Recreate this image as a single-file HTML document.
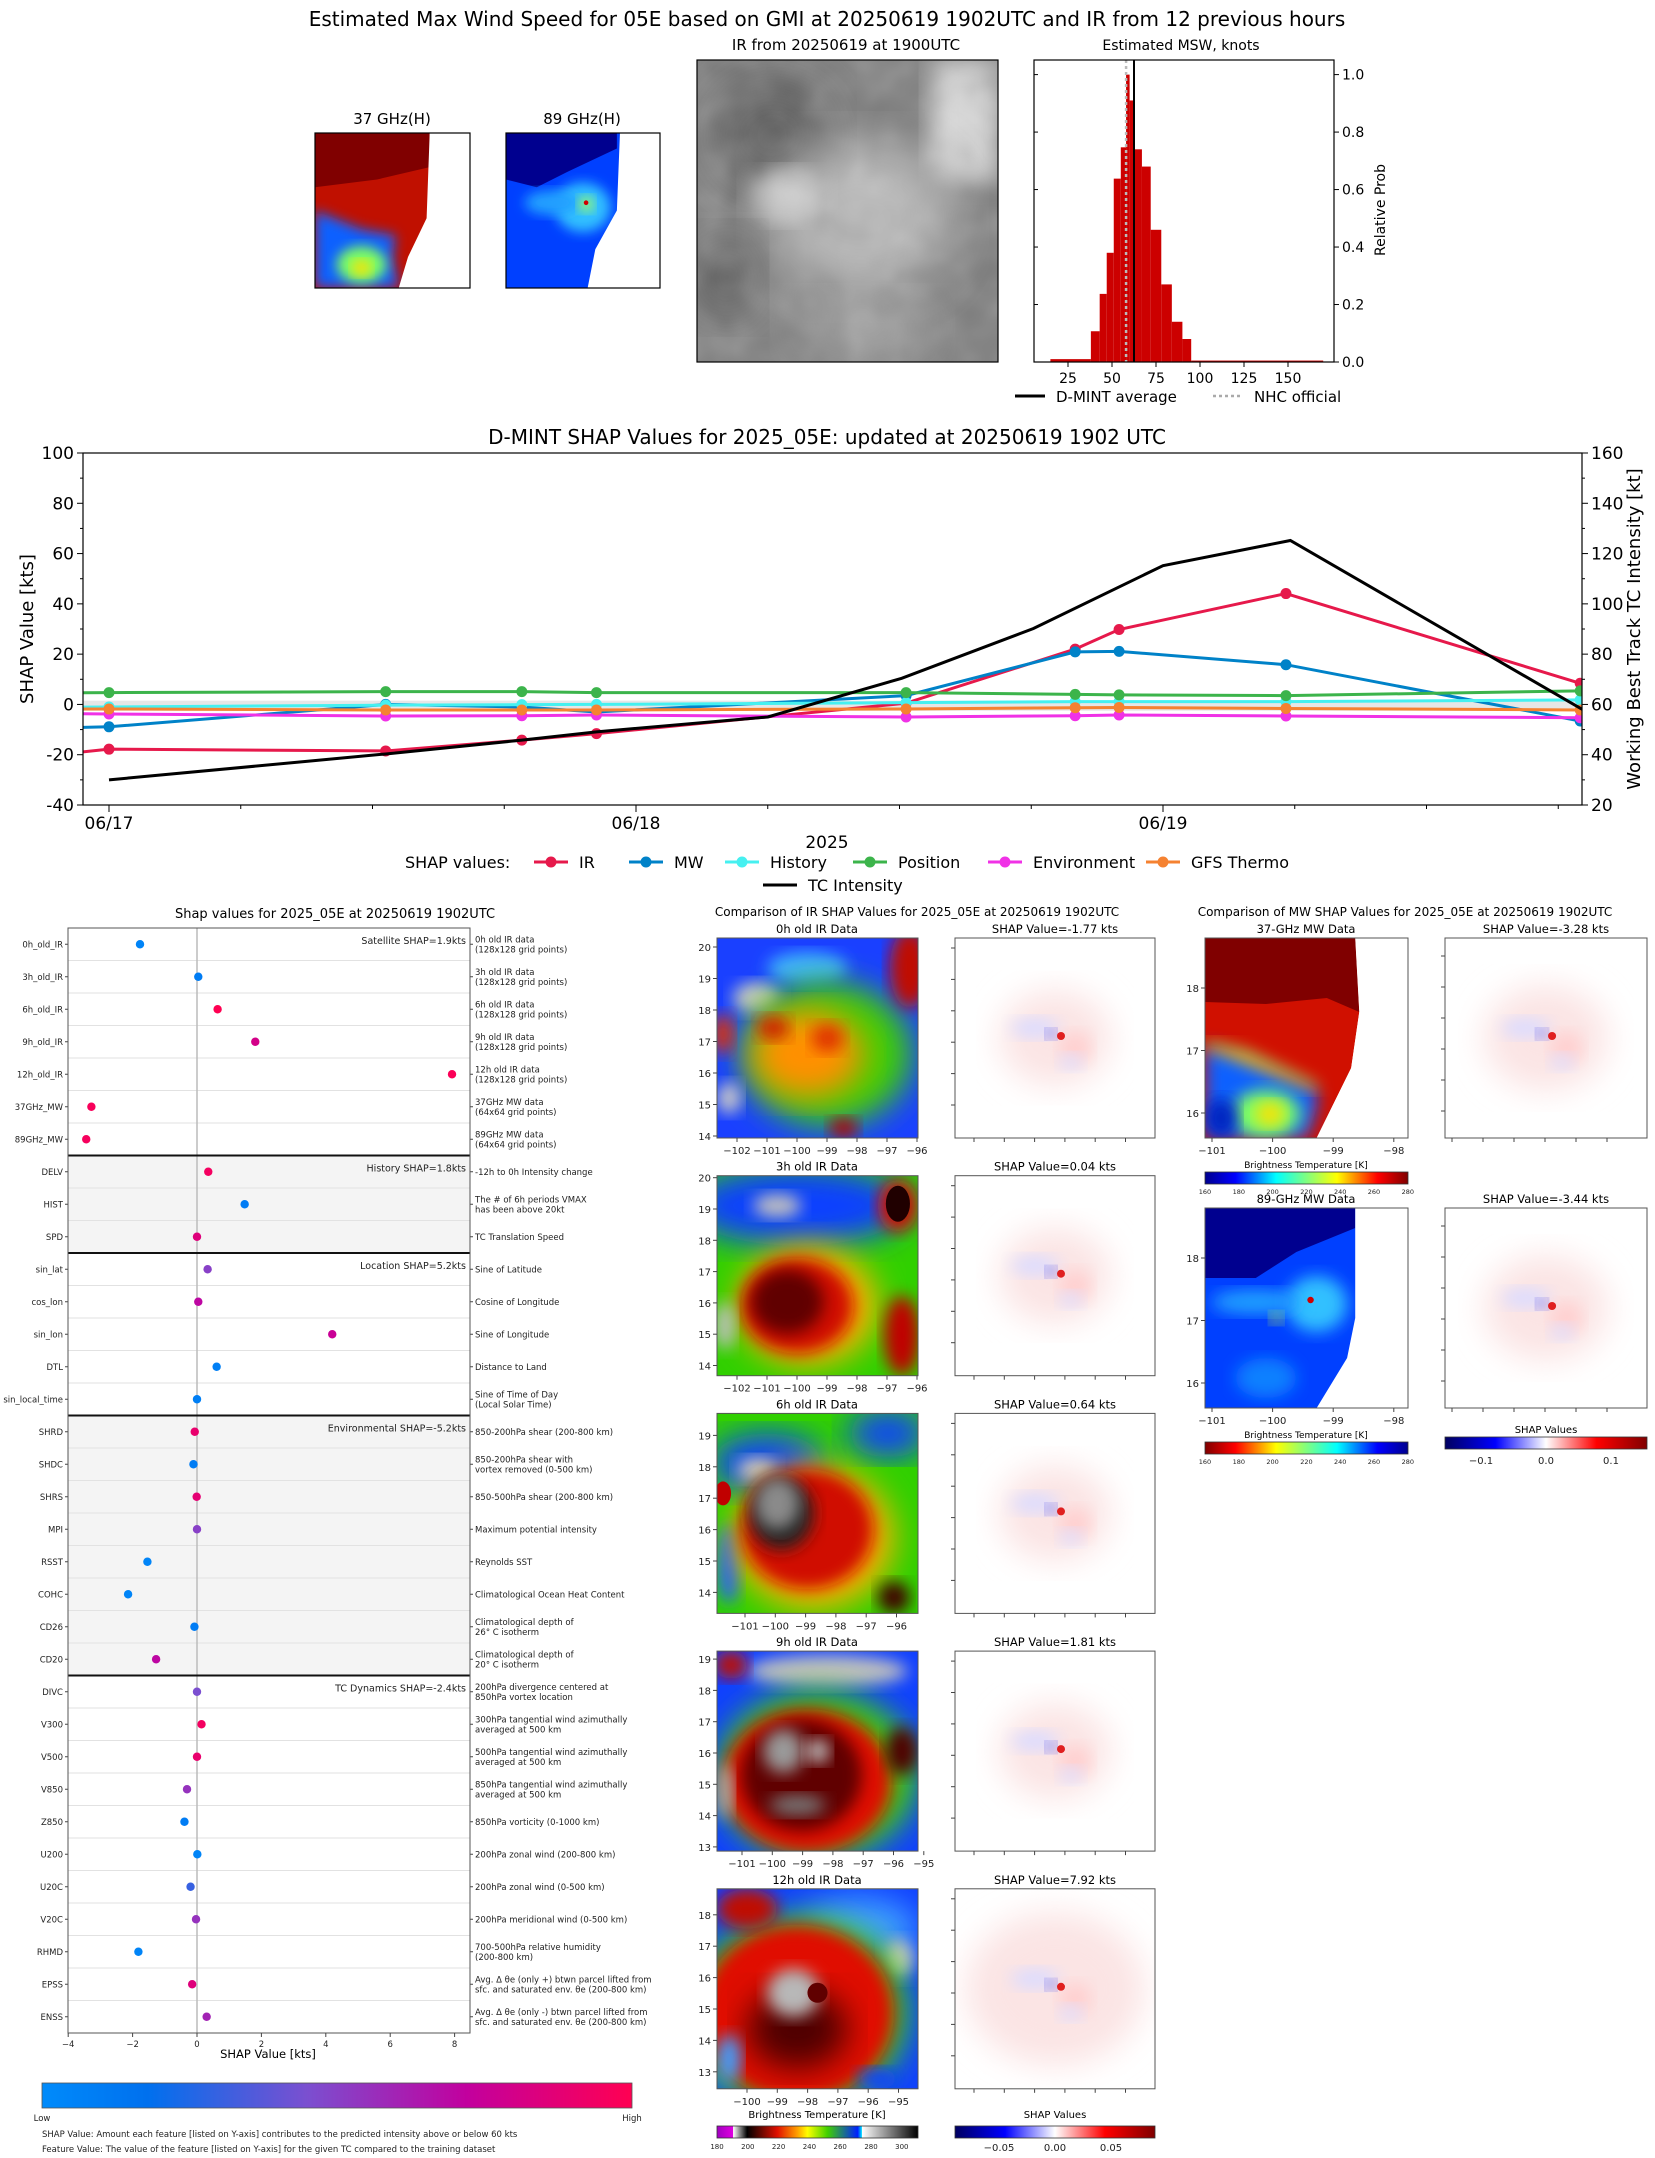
<!DOCTYPE html>
<html><head><meta charset="utf-8">
<style>
html,body{margin:0;padding:0;background:#fff;}
svg{display:block;font-family:"DejaVu Sans","Liberation Sans",sans-serif;}
</style></head>
<body>
<svg id="root" width="1655" height="2158" viewBox="0 0 1655 2158" xmlns="http://www.w3.org/2000/svg">
<defs>
<filter id="bl4" x="-20%" y="-20%" width="140%" height="140%"><feGaussianBlur stdDeviation="4"/></filter>
<filter id="bl8" x="-20%" y="-20%" width="140%" height="140%"><feGaussianBlur stdDeviation="8"/></filter>
<filter id="grain"><feTurbulence type="fractalNoise" baseFrequency="0.08" numOctaves="2" seed="3"/><feColorMatrix type="saturate" values="0"/><feComponentTransfer><feFuncA type="table" tableValues="0 0.35"/></feComponentTransfer></filter>
<linearGradient id="cbShap" x1="0" x2="1"><stop offset="0" stop-color="#008bfb"/><stop offset="0.18" stop-color="#0070ee"/><stop offset="0.45" stop-color="#7b4fd0"/><stop offset="0.72" stop-color="#c2009e"/><stop offset="1" stop-color="#ff0052"/></linearGradient>
<linearGradient id="cbIR" x1="0" x2="1"><stop offset="0" stop-color="#a000c0"/><stop offset="0.08" stop-color="#e000e0"/><stop offset="0.081" stop-color="#ffffff"/><stop offset="0.15" stop-color="#000000"/><stop offset="0.3" stop-color="#e01000"/><stop offset="0.4" stop-color="#ffa000"/><stop offset="0.45" stop-color="#ffff00"/><stop offset="0.55" stop-color="#40d000"/><stop offset="0.7" stop-color="#0020ff"/><stop offset="0.72" stop-color="#00e0ff"/><stop offset="0.721" stop-color="#ffffff"/><stop offset="1" stop-color="#000000"/></linearGradient>
<linearGradient id="cbSV" x1="0" x2="1"><stop offset="0" stop-color="#000060"/><stop offset="0.25" stop-color="#0000ff"/><stop offset="0.5" stop-color="#ffffff"/><stop offset="0.75" stop-color="#ff0000"/><stop offset="1" stop-color="#800000"/></linearGradient>
<linearGradient id="cbJet" x1="0" x2="1"><stop offset="0" stop-color="#00008f"/><stop offset="0.15" stop-color="#0000ff"/><stop offset="0.35" stop-color="#00ffff"/><stop offset="0.5" stop-color="#80ff80"/><stop offset="0.65" stop-color="#ffff00"/><stop offset="0.85" stop-color="#ff0000"/><stop offset="1" stop-color="#800000"/></linearGradient>
<linearGradient id="cbJetR" x1="1" x2="0"><stop offset="0" stop-color="#00008f"/><stop offset="0.15" stop-color="#0000ff"/><stop offset="0.35" stop-color="#00ffff"/><stop offset="0.5" stop-color="#80ff80"/><stop offset="0.65" stop-color="#ffff00"/><stop offset="0.85" stop-color="#ff0000"/><stop offset="1" stop-color="#800000"/></linearGradient>
<clipPath id="cpTL"><rect x="83" y="453" width="1499" height="352"/></clipPath>
</defs>

<text x="827" y="26" font-size="20" text-anchor="middle">Estimated Max Wind Speed for 05E based on GMI at 20250619 1902UTC and IR from 12 previous hours</text>

<text x="392" y="124" font-size="15" text-anchor="middle">37 GHz(H)</text>
<g>
  <svg x="315" y="133" width="155" height="155" viewBox="0 0 100 100" preserveAspectRatio="none">
    <rect width="100" height="100" fill="#fff"/>
    <polygon points="0,0 74,0 74,60 60,100 0,100" fill="#c01000"/>
    <polygon points="0,0 74,0 74,22 40,30 0,35" fill="#800000"/>
    <polygon points="0,50 30,62 52,66 50,80 54,100 0,100" fill="#1060ff" filter="url(#bl4)"/>
    <ellipse cx="30" cy="85" rx="16" ry="12" fill="#80ff60" filter="url(#bl4)"/>
    <ellipse cx="30" cy="87" rx="6" ry="5" fill="#ffe000" filter="url(#bl4)"/>
    <polygon points="74,0 100,0 100,100 54,100 60,80 72,55" fill="#fff"/>
  </svg>
  <rect x="315" y="133" width="155" height="155" fill="none" stroke="#000" stroke-width="1.2"/>
</g>
<text x="582" y="124" font-size="15" text-anchor="middle">89 GHz(H)</text>
<g>
  <svg x="506" y="133" width="154" height="155" viewBox="0 0 100 100" preserveAspectRatio="none">
    <rect width="100" height="100" fill="#0040ff"/>
    <polygon points="0,0 72,0 72,10 40,25 20,35 0,30" fill="#00008f"/>
    <ellipse cx="50" cy="48" rx="18" ry="16" fill="#30c0ff" filter="url(#bl4)"/>
    <ellipse cx="30" cy="45" rx="18" ry="8" fill="#20a0ff" filter="url(#bl4)"/>
    <ellipse cx="52" cy="46" rx="5" ry="5" fill="#a0ff60" filter="url(#bl4)"/>
    <circle cx="52" cy="45" r="1.5" fill="#d00000"/>
    <polygon points="74,0 100,0 100,100 53,100 58,75 72,50" fill="#fff"/>
  </svg>
  <rect x="506" y="133" width="154" height="155" fill="none" stroke="#000" stroke-width="1.2"/>
</g>

<text x="846" y="50" font-size="15" text-anchor="middle">IR from 20250619 at 1900UTC</text>
<g>
  <svg x="697" y="60" width="301" height="302" viewBox="0 0 100 100" preserveAspectRatio="none">
    <rect width="100" height="100" fill="#7c7c7c"/>
    <rect x="78" y="0" width="22" height="40" fill="#d8d8d8" filter="url(#bl4)"/>
    <ellipse cx="25" cy="25" rx="20" ry="18" fill="#555" filter="url(#bl8)"/>
    <ellipse cx="55" cy="52" rx="30" ry="25" fill="#b8b8b8" filter="url(#bl8)"/>
    <ellipse cx="30" cy="45" rx="12" ry="8" fill="#cfcfcf" filter="url(#bl4)"/>
    <ellipse cx="55" cy="88" rx="22" ry="10" fill="#a5a5a5" filter="url(#bl8)"/>
    <ellipse cx="10" cy="72" rx="10" ry="14" fill="#555" filter="url(#bl8)"/>
    <rect width="100" height="100" filter="url(#grain)"/>
  </svg>
  <rect x="697" y="60" width="301" height="302" fill="none" stroke="#000" stroke-width="1.2"/>
</g>

<text x="1181" y="50" font-size="14" text-anchor="middle">Estimated MSW, knots</text>
<g id="hist"></g>

<text x="827" y="444" font-size="20" text-anchor="middle">D-MINT SHAP Values for 2025_05E: updated at 20250619 1902 UTC</text>
<g id="timeline"></g>

<text x="335" y="918" font-size="13" text-anchor="middle">Shap values for 2025_05E at 20250619 1902UTC</text>
<g id="feat"></g>

<text x="917" y="916" font-size="12" text-anchor="middle">Comparison of IR SHAP Values for 2025_05E at 20250619 1902UTC</text>
<g id="irpanels"></g>

<text x="1405" y="916" font-size="12" text-anchor="middle">Comparison of MW SHAP Values for 2025_05E at 20250619 1902UTC</text>
<g id="mwpanels"></g>
</svg>

<script>
// ---------- DATA ----------
const histEdges = [15,38,43,47,51,55,58,60,63,67,72,78,84,90,95,170];
const histProbs = [0.01,0.107,0.237,0.38,0.638,0.747,1.0,0.91,0.74,0.68,0.46,0.27,0.14,0.08,0.005];
const histXTicks = [25,50,75,100,125,150];
const histYTicks = [0,0.2,0.4,0.6,0.8,1.0];
const dmintAvg = 62.5;
const nhcOfficial = 58;

const tlHours = [-3,0,12.6,18.8,22.2,36.3,44,46,53.6,67];
const irShap   = [-20.5,-17.8,-18.5,-14.2,-11.6,0.5,22,29.8,44.1,8.4];
const mwShap   = [-9.5,-8.9,0,-1,-3,3.5,20.9,21.1,15.8,-6.6];
const histShap = [-1.2,-1,-0.3,-0.1,0,0.7,1.1,1.1,1.1,1.8];
const posShap  = [4.5,4.7,5.1,5.1,4.7,4.7,4.0,3.8,3.5,5.4];
const envShap  = [-3.6,-3.8,-4.6,-4.5,-4.2,-5,-4.5,-4.2,-4.6,-5.3];
const gfsShap  = [-1.8,-1.8,-2.2,-2.2,-2.2,-1.8,-1.3,-1.2,-1.6,-2.2];
const tcHours = [0,12.6,18.8,22.2,30,36.1,42.1,48,53.8,67.1];
const tcIntensity = [30,40.3,45.8,49.1,55,70.4,90.2,115.2,125.2,58];
const tlLeftTicks = [-40,-20,0,20,40,60,80,100];
const tlRightTicks = [20,40,60,80,100,120,140,160];
const tlDateLabels = ["06/17","06/18","06/19"];

const featNames = ["0h_old_IR","3h_old_IR","6h_old_IR","9h_old_IR","12h_old_IR","37GHz_MW","89GHz_MW","DELV","HIST","SPD","sin_lat","cos_lon","sin_lon","DTL","sin_local_time","SHRD","SHDC","SHRS","MPI","RSST","COHC","CD26","CD20","DIVC","V300","V500","V850","Z850","U200","U20C","V20C","RHMD","EPSS","ENSS"];
const featShap = [-1.77,0.04,0.64,1.81,7.92,-3.28,-3.44,0.35,1.48,0,0.33,0.04,4.2,0.61,0,-0.07,-0.11,-0.01,0,-1.54,-2.14,-0.08,-1.27,0,0.14,0,-0.31,-0.39,0.01,-0.2,-0.03,-1.82,-0.15,0.3];
const featValue = [0.05,0.1,1.0,0.8,0.98,0.97,0.96,0.95,0.1,0.85,0.5,0.7,0.75,0.08,0.08,0.9,0.1,0.88,0.5,0.05,0.05,0.1,0.7,0.45,0.95,0.9,0.55,0.1,0.05,0.3,0.55,0.05,0.85,0.6];
const featDesc = ["0h old IR data|(128x128 grid points)","3h old IR data|(128x128 grid points)","6h old IR data|(128x128 grid points)","9h old IR data|(128x128 grid points)","12h old IR data|(128x128 grid points)","37GHz MW data|(64x64 grid points)","89GHz MW data|(64x64 grid points)","-12h to 0h Intensity change","The # of 6h periods VMAX|has been above 20kt","TC Translation Speed","Sine of Latitude","Cosine of Longitude","Sine of Longitude","Distance to Land","Sine of Time of Day|(Local Solar Time)","850-200hPa shear (200-800 km)","850-200hPa shear with|vortex removed (0-500 km)","850-500hPa shear (200-800 km)","Maximum potential intensity","Reynolds SST","Climatological Ocean Heat Content","Climatological depth of|26° C isotherm","Climatological depth of|20° C isotherm","200hPa divergence centered at|850hPa vortex location","300hPa tangential wind azimuthally|averaged at 500 km","500hPa tangential wind azimuthally|averaged at 500 km","850hPa tangential wind azimuthally|averaged at 500 km","850hPa vorticity (0-1000 km)","200hPa zonal wind (200-800 km)","200hPa zonal wind (0-500 km)","200hPa meridional wind (0-500 km)","700-500hPa relative humidity|(200-800 km)","Avg. Δ θe (only +) btwn parcel lifted from|sfc. and saturated env. θe (200-800 km)","Avg. Δ θe (only -) btwn parcel lifted from|sfc. and saturated env. θe (200-800 km)"];
const groupNames = ["Satellite SHAP=1.9kts","History SHAP=1.8kts","Location SHAP=5.2kts","Environmental SHAP=-5.2kts","TC Dynamics SHAP=-2.4kts"];
const groupSizes = [7,3,5,8,11];
const featXTicks = [-4,-2,0,2,4,6,8];

const irTitles = ["0h old IR Data","3h old IR Data","6h old IR Data","9h old IR Data","12h old IR Data"];
const irShapVals = ["-1.77","0.04","0.64","1.81","7.92"];
const mwTitles = ["37-GHz MW Data","89-GHz MW Data"];
const mwShapVals = ["-3.28","-3.44"];

// ---------- HELPERS ----------
const NS = "http://www.w3.org/2000/svg";
function add(parent, tag, attrs, name, inter) {
  const e = document.createElementNS(NS, tag);
  for (const k in attrs) e.setAttribute(k, attrs[k]);
  
  
  parent.appendChild(e);
  return e;
}
function txt(parent, x, y, s, size, name, extra) {
  const a = Object.assign({x: x, y: y, 'font-size': size}, extra || {});
  const t = add(parent, 'text', a, name, false);
  t.textContent = s;
  return t;
}

// ---------- HISTOGRAM ----------
(function(){
  const g = document.getElementById('hist');
  const L = 1034, R = 1334, T = 60, B = 362;
  const xs = k => 1068 + (k - 25) * 1.76;
  const ys = p => B - p * 287.4;
  for (let i = 0; i < histProbs.length; i++) {
    add(g, 'rect', {x: xs(histEdges[i]), y: ys(histProbs[i]), width: xs(histEdges[i+1]) - xs(histEdges[i]), height: B - ys(histProbs[i]), fill: '#cc0000'}, 'hist-bar', false);
  }
  add(g, 'line', {x1: xs(nhcOfficial), x2: xs(nhcOfficial), y1: T, y2: B, stroke: '#bbbbbb', 'stroke-width': 2.5, 'stroke-dasharray': '3,3'}, 'nhc-official-line', false);
  add(g, 'line', {x1: xs(dmintAvg), x2: xs(dmintAvg), y1: T, y2: B, stroke: '#000', 'stroke-width': 2}, 'dmint-average-line', false);
  add(g, 'rect', {x: L, y: T, width: R - L, height: B - T, fill: 'none', stroke: '#000', 'stroke-width': 1.2}, 'histogram-frame', false);
  histXTicks.forEach(v => {
    add(g, 'line', {x1: xs(v), x2: xs(v), y1: B, y2: B + 5, stroke: '#000'}, 'x-tick', false);
    txt(g, xs(v), B + 21, String(v), 14, 'x-tick-label', {'text-anchor': 'middle'});
  });
  histYTicks.forEach(v => {
    add(g, 'line', {x1: R, x2: R + 5, y1: ys(v), y2: ys(v), stroke: '#000'}, 'y-tick', false);
    add(g, 'line', {x1: L, x2: L + 4, y1: ys(v), y2: ys(v), stroke: '#000'}, 'y-tick-inner', false);
    txt(g, R + 8, ys(v) + 5, v.toFixed(1), 14, 'y-tick-label', {});
  });
  txt(g, 1385, 210, 'Relative Prob', 14, 'y-axis-title', {'text-anchor': 'middle', transform: 'rotate(-90 1385 210)'});
  add(g, 'line', {x1: 1015, x2: 1045, y1: 396, y2: 396, stroke: '#000', 'stroke-width': 3}, 'legend-dmint-swatch', false);
  txt(g, 1056, 402, 'D-MINT average', 15, 'legend-dmint-label', {});
  add(g, 'line', {x1: 1213, x2: 1243, y1: 396, y2: 396, stroke: '#aaa', 'stroke-width': 2.5, 'stroke-dasharray': '3,3'}, 'legend-nhc-swatch', false);
  txt(g, 1254, 402, 'NHC official', 15, 'legend-nhc-label', {});
})();

// ---------- TIMELINE ----------
(function(){
  const g = document.getElementById('timeline');
  const L = 83, R = 1582, T = 453, B = 805;
  const xs = h => 109 + h / 24 * 527;
  const yl = v => T + (100 - v) * (B - T) / 140;
  const yr = v => T + (160 - v) * (B - T) / 140;
  add(g, 'rect', {x: L, y: yl(1.5), width: R - L, height: yl(-2.5) - yl(1.5), fill: '#e6e6e6'}, 'zero-band', false);
  const cg = add(g, 'g', {'clip-path': 'url(#cpTL)'}, 'series-group', false);
  const series = [[irShap,'#e6194b','ir-series'],[mwShap,'#0082c8','mw-series'],[histShap,'#46f0f0','history-series'],[posShap,'#3cb44b','position-series'],[envShap,'#f032e6','environment-series'],[gfsShap,'#f58231','gfs-thermo-series']];
  series.forEach(s => {
    const pts = tlHours.map((h, i) => xs(h) + ',' + yl(s[0][i])).join(' ');
    add(cg, 'polyline', {points: pts, fill: 'none', stroke: s[1], 'stroke-width': 3}, s[2] + '-line', false);
    tlHours.forEach((h, i) => {
      add(cg, 'circle', {cx: xs(h), cy: yl(s[0][i]), r: 5.5, fill: s[1]}, s[2] + '-marker', false);
    });
  });
  const tpts = tcHours.map((h, i) => xs(h) + ',' + yr(tcIntensity[i])).join(' ');
  add(cg, 'polyline', {points: tpts, fill: 'none', stroke: '#000', 'stroke-width': 3}, 'tc-intensity-line', false);
  add(g, 'rect', {x: L, y: T, width: R - L, height: B - T, fill: 'none', stroke: '#000', 'stroke-width': 1.2}, 'timeline-frame', false);
  tlLeftTicks.forEach(v => {
    add(g, 'line', {x1: L - 6, x2: L, y1: yl(v), y2: yl(v), stroke: '#000'}, 'left-tick', false);
    txt(g, L - 9, yl(v) + 6, String(v), 17, 'left-tick-label', {'text-anchor': 'end'});
    if (v < 100) add(g, 'line', {x1: L - 3, x2: L, y1: yl(v + 10), y2: yl(v + 10), stroke: '#000'}, 'left-minor-tick', false);
  });
  tlRightTicks.forEach(v => {
    add(g, 'line', {x1: R, x2: R + 6, y1: yr(v), y2: yr(v), stroke: '#000'}, 'right-tick', false);
    txt(g, R + 9, yr(v) + 6, String(v), 17, 'right-tick-label', {});
    if (v < 160) add(g, 'line', {x1: R, x2: R + 3, y1: yr(v + 10), y2: yr(v + 10), stroke: '#000'}, 'right-minor-tick', false);
  });
  for (let h = 0; h <= 66; h += 6) {
    const major = h % 24 === 0;
    add(g, 'line', {x1: xs(h), x2: xs(h), y1: B, y2: B + (major ? 7 : 4), stroke: '#000'}, 'x-tick', false);
  }
  tlDateLabels.forEach((d, i) => txt(g, xs(i * 24), B + 24, d, 17, 'x-tick-label', {'text-anchor': 'middle'}));
  txt(g, 827, 848, '2025', 17, 'x-axis-title', {'text-anchor': 'middle'});
  txt(g, 33, 629, 'SHAP Value [kts]', 18, 'left-axis-title', {'text-anchor': 'middle', transform: 'rotate(-90 33 629)'});
  txt(g, 1640, 629, 'Working Best Track TC Intensity [kt]', 18, 'right-axis-title', {'text-anchor': 'middle', transform: 'rotate(-90 1640 629)'});
  const ly = 862;
  txt(g, 405, ly + 6, 'SHAP values:', 16, 'legend-title', {});
  const leg = [[551,'IR','#e6194b'],[646,'MW','#0082c8'],[742,'History','#46f0f0'],[870,'Position','#3cb44b'],[1005,'Environment','#f032e6'],[1163,'GFS Thermo','#f58231']];
  leg.forEach(l => {
    add(g, 'line', {x1: l[0] - 17, x2: l[0] + 17, y1: ly, y2: ly, stroke: l[2], 'stroke-width': 3}, 'legend-swatch', false);
    add(g, 'circle', {cx: l[0], cy: ly, r: 5.5, fill: l[2]}, 'legend-marker', false);
    txt(g, l[0] + 28, ly + 6, l[1], 16, 'legend-label', {});
  });
  add(g, 'line', {x1: 763, x2: 797, y1: 885, y2: 885, stroke: '#000', 'stroke-width': 3}, 'legend-tc-swatch', false);
  txt(g, 808, 891, 'TC Intensity', 16, 'legend-tc-label', {});
})();

// ---------- FEATURE CHART ----------
function shapColor(t) {
  const st = [[0,[0,139,251]],[0.18,[0,112,238]],[0.45,[123,79,208]],[0.72,[194,0,158]],[1,[255,0,82]]];
  for (let i = 1; i < st.length; i++) {
    if (t <= st[i][0]) {
      const f = (t - st[i-1][0]) / (st[i][0] - st[i-1][0]);
      const c = st[i-1][1].map((v, k) => Math.round(v + f * (st[i][1][k] - v)));
      return 'rgb(' + c.join(',') + ')';
    }
  }
  return 'rgb(255,0,82)';
}
(function(){
  const g = document.getElementById('feat');
  const L = 68, R = 470, T = 928, RH = 32.5;
  const xs = v => 197 + v * 32.2;
  const B = T + featNames.length * RH;
  let row = 0;
  groupSizes.forEach((n, gi) => {
    const y0 = T + row * RH;
    if (gi % 2 === 1) add(g, 'rect', {x: L, y: y0, width: R - L, height: n * RH, fill: '#f4f4f4'}, 'group-shade', false);
    txt(g, R - 4, y0 + 16, groupNames[gi], 9.5, 'group-label', {'text-anchor': 'end', fill: '#222'});
    row += n;
  });
  for (let i = 1; i < featNames.length; i++) {
    add(g, 'line', {x1: L, x2: R, y1: T + i * RH, y2: T + i * RH, stroke: '#e2e2e2', 'stroke-width': 1}, 'row-divider', false);
  }
  add(g, 'line', {x1: xs(0), x2: xs(0), y1: T, y2: B, stroke: '#bbbbbb', 'stroke-width': 1.5}, 'zero-line', false);
  row = 0;
  groupSizes.forEach((n, gi) => {
    row += n;
    if (gi < groupSizes.length - 1) add(g, 'line', {x1: L, x2: R, y1: T + row * RH, y2: T + row * RH, stroke: '#111', 'stroke-width': 2}, 'group-divider', false);
  });
  featNames.forEach((nm, i) => {
    const yc = T + RH / 2 + i * RH;
    txt(g, L - 5, yc + 3, nm, 8.5, 'feature-label', {'text-anchor': 'end', fill: '#222'});
    add(g, 'line', {x1: L - 3, x2: L, y1: yc, y2: yc, stroke: '#444'}, 'y-tick', false);
    add(g, 'line', {x1: R, x2: R + 3, y1: yc, y2: yc, stroke: '#444'}, 'y-tick-right', false);
    const lines = featDesc[i].split('|');
    lines.forEach((ln, k) => {
      txt(g, R + 5, yc + 3 + (k - (lines.length - 1) / 2) * 10, ln, 8.5, 'feature-description', {fill: '#222'});
    });
    add(g, 'circle', {cx: xs(featShap[i]), cy: yc, r: 4.2, fill: shapColor(featValue[i])}, 'shap-dot', false);
  });
  add(g, 'rect', {x: L, y: T, width: R - L, height: B - T, fill: 'none', stroke: '#555', 'stroke-width': 1}, 'feature-frame', false);
  featXTicks.forEach(v => {
    add(g, 'line', {x1: xs(v), x2: xs(v), y1: B, y2: B + 4, stroke: '#444'}, 'x-tick', false);
    txt(g, xs(v), B + 14, (v < 0 ? '\u2212' + (-v) : String(v)), 8.5, 'x-tick-label', {'text-anchor': 'middle', fill: '#222'});
  });
  txt(g, 268, 2058, 'SHAP Value [kts]', 11.5, 'x-axis-title', {'text-anchor': 'middle'});
  add(g, 'rect', {x: 42, y: 2083, width: 590, height: 25, fill: 'url(#cbShap)', stroke: '#555', 'stroke-width': 0.8}, 'feature-colorbar', false);
  txt(g, 42, 2121, 'Low', 8.5, 'colorbar-low-label', {'text-anchor': 'middle', fill: '#222'});
  txt(g, 632, 2121, 'High', 8.5, 'colorbar-high-label', {'text-anchor': 'middle', fill: '#222'});
  txt(g, 42, 2137, 'SHAP Value: Amount each feature [listed on Y-axis] contributes to the predicted intensity above or below 60 kts', 8.5, 'footnote-shap', {fill: '#222'});
  txt(g, 42, 2152, 'Feature Value: The value of the feature [listed on Y-axis] for the given TC compared to the training dataset', 8.5, 'footnote-feature', {fill: '#222'});
})();

// ---------- IR / MW PANELS ----------
const irScenes = [
 '<rect width="100" height="100" fill="#1a40ff"/><ellipse cx="20" cy="30" rx="12" ry="8" fill="#c8c8c8" filter="url(#bl4)"/><ellipse cx="45" cy="15" rx="20" ry="8" fill="#40b0ff" filter="url(#bl4)"/><ellipse cx="55" cy="58" rx="42" ry="36" fill="#40d000" filter="url(#bl8)"/><ellipse cx="45" cy="58" rx="28" ry="22" fill="#ff9000" filter="url(#bl8)"/><ellipse cx="55" cy="50" rx="8" ry="7" fill="#e03000" filter="url(#bl4)"/><ellipse cx="28" cy="45" rx="8" ry="6" fill="#d02000" filter="url(#bl4)"/><ellipse cx="96" cy="15" rx="10" ry="20" fill="#c01000" filter="url(#bl4)"/><ellipse cx="3" cy="48" rx="5" ry="10" fill="#e03000" filter="url(#bl4)"/><ellipse cx="6" cy="80" rx="6" ry="8" fill="#c8c8c8" filter="url(#bl4)"/><ellipse cx="63" cy="95" rx="7" ry="5" fill="#b00000" filter="url(#bl4)"/>',
 '<rect width="100" height="100" fill="#30d000"/><ellipse cx="40" cy="15" rx="55" ry="20" fill="#1040ff" filter="url(#bl8)"/><ellipse cx="30" cy="15" rx="12" ry="6" fill="#c0c0c0" filter="url(#bl4)"/><ellipse cx="45" cy="65" rx="35" ry="30" fill="#ffb000" filter="url(#bl8)"/><ellipse cx="40" cy="65" rx="28" ry="24" fill="#d01000" filter="url(#bl4)"/><ellipse cx="35" cy="63" rx="18" ry="16" fill="#600000" filter="url(#bl4)"/><ellipse cx="90" cy="15" rx="10" ry="13" fill="#d01000" filter="url(#bl4)"/><ellipse cx="90" cy="14" rx="6" ry="9" fill="#200000"/><ellipse cx="92" cy="80" rx="9" ry="20" fill="#c00000" filter="url(#bl4)"/><ellipse cx="4" cy="75" rx="5" ry="12" fill="#c0c0c0" filter="url(#bl4)"/>',
 '<rect width="100" height="100" fill="#30d000"/><ellipse cx="85" cy="10" rx="20" ry="12" fill="#1040ff" filter="url(#bl8)"/><ellipse cx="25" cy="25" rx="28" ry="15" fill="#1040ff" filter="url(#bl8)"/><ellipse cx="20" cy="28" rx="10" ry="6" fill="#c8c8c8" filter="url(#bl4)"/><ellipse cx="6" cy="75" rx="6" ry="20" fill="#2060ff" filter="url(#bl4)"/><ellipse cx="48" cy="62" rx="40" ry="36" fill="#ffb000" filter="url(#bl8)"/><ellipse cx="45" cy="58" rx="33" ry="30" fill="#d01000" filter="url(#bl4)"/><ellipse cx="32" cy="50" rx="16" ry="18" fill="#202020" filter="url(#bl4)"/><ellipse cx="30" cy="45" rx="11" ry="13" fill="#8a8a8a" filter="url(#bl4)"/><ellipse cx="88" cy="92" rx="8" ry="8" fill="#400000" filter="url(#bl4)"/><ellipse cx="3" cy="40" rx="4" ry="6" fill="#c00000"/>',
 '<rect width="100" height="100" fill="#1040ff"/><ellipse cx="55" cy="10" rx="40" ry="8" fill="#c0c0c0" filter="url(#bl4)"/><ellipse cx="50" cy="62" rx="50" ry="42" fill="#40d000" filter="url(#bl8)"/><ellipse cx="45" cy="65" rx="42" ry="36" fill="#e01000" filter="url(#bl4)"/><ellipse cx="42" cy="62" rx="30" ry="28" fill="#600000" filter="url(#bl4)"/><ellipse cx="33" cy="50" rx="10" ry="11" fill="#9a9a9a" filter="url(#bl4)"/><ellipse cx="50" cy="50" rx="6" ry="6" fill="#bbbbbb" filter="url(#bl4)"/><ellipse cx="40" cy="77" rx="14" ry="5" fill="#777" filter="url(#bl4)"/><ellipse cx="7" cy="7" rx="8" ry="7" fill="#c01000" filter="url(#bl4)"/><ellipse cx="4" cy="70" rx="4" ry="14" fill="#b0b0b0" filter="url(#bl4)"/><ellipse cx="92" cy="50" rx="8" ry="12" fill="#500000" filter="url(#bl4)"/>',
 '<rect width="100" height="100" fill="#1040ff"/><ellipse cx="70" cy="20" rx="30" ry="16" fill="#40a0ff" filter="url(#bl8)"/><ellipse cx="90" cy="35" rx="8" ry="10" fill="#c8c8c8" filter="url(#bl4)"/><ellipse cx="40" cy="62" rx="55" ry="48" fill="#40d000" filter="url(#bl8)"/><ellipse cx="40" cy="62" rx="48" ry="44" fill="#e01000" filter="url(#bl4)"/><ellipse cx="15" cy="10" rx="15" ry="10" fill="#c01000" filter="url(#bl4)"/><ellipse cx="40" cy="70" rx="25" ry="20" fill="#500000" filter="url(#bl8)"/><ellipse cx="38" cy="52" rx="13" ry="12" fill="#b8b8b8" filter="url(#bl4)"/><ellipse cx="50" cy="52" rx="5" ry="5" fill="#600000"/><ellipse cx="6" cy="85" rx="6" ry="12" fill="#40a0ff" filter="url(#bl4)"/><ellipse cx="80" cy="95" rx="10" ry="5" fill="#1040ff" filter="url(#bl4)"/>'
];
const shapScene = (s) => '<rect width="100" height="100" fill="#fff"/><ellipse cx="50" cy="50" rx="' + (28*s) + '" ry="' + (24*s) + '" fill="#fbe4e4" filter="url(#bl8)"/><ellipse cx="40" cy="45" rx="12" ry="5" fill="#dcdcff" filter="url(#bl4)"/><ellipse cx="60" cy="55" rx="8" ry="8" fill="#ffd0d0" filter="url(#bl4)"/><circle cx="48" cy="48" r="2.5" fill="#2020e0" filter="url(#bl4)"/><circle cx="53" cy="49" r="2" fill="#e02020"/><ellipse cx="58" cy="62" rx="6" ry="4" fill="#e0e0ff" filter="url(#bl4)"/>';
const irYTicks = [[20,19,18,17,16,15,14],[20,19,18,17,16,15,14],[19,18,17,16,15,14],[19,18,17,16,15,14,13],[18,17,16,15,14,13]];
const irYOff = [9,2,22,8,26];
const irYSp = [31.5,31.3,31.4,31.3,31.4];
const irXTicks = [[-102,-101,-100,-99,-98,-97,-96],[-102,-101,-100,-99,-98,-97,-96],[-101,-100,-99,-98,-97,-96],[-101,-100,-99,-98,-97,-96,-95],[-100,-99,-98,-97,-96,-95]];
const irXOff = [20,20,28,25,30];
const irXSp = [30,30,30.3,30.3,30.3];

function scenePanel(parent, x, y, w, h, inner, name) {
  const s = add(parent, 'svg', {x: x, y: y, width: w, height: h, viewBox: '0 0 100 100', preserveAspectRatio: 'none'}, name, false);
  s.innerHTML = inner;
  add(parent, 'rect', {x: x, y: y, width: w, height: h, fill: 'none', stroke: '#555', 'stroke-width': 1}, name + '-frame', false);
}
(function(){
  const g = document.getElementById('irpanels');
  for (let i = 0; i < 5; i++) {
    const top = 938 + i * 237.7;
    scenePanel(g, 717, top, 201, 200, irScenes[i], 'ir-image-' + i);
    txt(g, 817, top - 5, irTitles[i], 11.5, 'ir-panel-title', {'text-anchor': 'middle'});
    irYTicks[i].forEach((v, k) => {
      const yy = top + irYOff[i] + k * irYSp[i];
      add(g, 'line', {x1: 713, x2: 717, y1: yy, y2: yy, stroke: '#444'}, 'y-tick', false);
      txt(g, 711, yy + 4, String(v), 10, 'y-tick-label', {'text-anchor': 'end', fill: '#222'});
    });
    irXTicks[i].forEach((v, k) => {
      const xx = 717 + irXOff[i] + k * irXSp[i];
      add(g, 'line', {x1: xx, x2: xx, y1: top + 200, y2: top + 204, stroke: '#444'}, 'x-tick', false);
      txt(g, xx, top + 216, '\u2212' + (-v), 10, 'x-tick-label', {'text-anchor': 'middle', fill: '#222'});
    });
    scenePanel(g, 955, top, 200, 200, shapScene(i === 4 ? 1.6 : 1), 'ir-shap-map-' + i);
    txt(g, 1055, top - 5, 'SHAP Value=' + irShapVals[i] + ' kts', 11.5, 'ir-shap-title', {'text-anchor': 'middle'});
    for (let k = 0; k < 6; k++) {
      add(g, 'line', {x1: 974 + k * 30.3, x2: 974 + k * 30.3, y1: top + 200, y2: top + 204, stroke: '#444'}, 'x-tick', false);
      add(g, 'line', {x1: 951, x2: 955, y1: top + 10 + k * 31.4, y2: top + 10 + k * 31.4, stroke: '#444'}, 'y-tick', false);
    }
  }
  txt(g, 817, 2118, 'Brightness Temperature [K]', 10, 'ir-colorbar-title', {'text-anchor': 'middle'});
  add(g, 'rect', {x: 717, y: 2126, width: 201, height: 12, fill: 'url(#cbIR)', stroke: '#333', 'stroke-width': 0.8}, 'ir-colorbar', false);
  [180,200,220,240,260,280,300].forEach((v, k) => txt(g, 717 + (v - 180) * 1.54, 2149, String(v), 7, 'ir-colorbar-tick', {'text-anchor': 'middle', fill: '#222'}));
  txt(g, 1055, 2118, 'SHAP Values', 10, 'ir-shap-colorbar-title', {'text-anchor': 'middle'});
  add(g, 'rect', {x: 955, y: 2126, width: 200, height: 12, fill: 'url(#cbSV)', stroke: '#333', 'stroke-width': 0.8}, 'ir-shap-colorbar', false);
  [['\u22120.05',999],['0.00',1055],['0.05',1111]].forEach(t => txt(g, t[1], 2151, t[0], 10, 'ir-shap-colorbar-tick', {'text-anchor': 'middle', fill: '#222'}));
})();
const mwScenes = [
 '<rect width="100" height="100" fill="#fff"/><polygon points="0,0 74,0 76,37 72,65 55,100 0,100" fill="#d01000"/><polygon points="0,0 74,0 76,37 60,30 30,33 0,32" fill="#800000"/><polygon points="0,53 20,58 45,70 55,75 55,85 50,100 0,100" fill="#1060ff" filter="url(#bl4)"/><polygon points="0,53 20,58 45,70 55,75" fill="none" stroke="#ffd000" stroke-width="3" filter="url(#bl4)"/><ellipse cx="30" cy="88" rx="17" ry="12" fill="#80ff60" filter="url(#bl4)"/><ellipse cx="32" cy="88" rx="7" ry="6" fill="#ffe000" filter="url(#bl4)"/><ellipse cx="8" cy="90" rx="8" ry="10" fill="#0020c0" filter="url(#bl4)"/><polygon points="74,0 100,0 100,100 55,100 72,65 76,37" fill="#fff"/>',
 '<rect width="100" height="100" fill="#0040ff"/><polygon points="0,0 74,0 74,10 45,22 25,35 0,35" fill="#00008f"/><ellipse cx="55" cy="48" rx="15" ry="14" fill="#30c0ff" filter="url(#bl4)"/><ellipse cx="25" cy="47" rx="22" ry="6" fill="#20a0ff" filter="url(#bl4)"/><ellipse cx="35" cy="55" rx="3" ry="3" fill="#c0ff40" filter="url(#bl4)"/><circle cx="52" cy="46" r="1.6" fill="#d00000"/><ellipse cx="30" cy="85" rx="15" ry="10" fill="#1080ff" filter="url(#bl4)"/><polygon points="74,0 100,0 100,100 55,100 70,75 74,55" fill="#fff"/>'
];
(function(){
  const g = document.getElementById('mwpanels');
  for (let i = 0; i < 2; i++) {
    const top = 938 + i * 270;
    scenePanel(g, 1205, top, 203, 200, mwScenes[i], 'mw-image-' + i);
    txt(g, 1306, top - 5, mwTitles[i], 11.5, 'mw-panel-title', {'text-anchor': 'middle'});
    [18,17,16].forEach((v, k) => {
      const yy = top + 50 + k * 62.5;
      add(g, 'line', {x1: 1201, x2: 1205, y1: yy, y2: yy, stroke: '#444'}, 'y-tick', false);
      txt(g, 1199, yy + 4, String(v), 10, 'y-tick-label', {'text-anchor': 'end', fill: '#222'});
    });
    [-101,-100,-99,-98].forEach((v, k) => {
      const xx = 1212 + k * 60.6;
      add(g, 'line', {x1: xx, x2: xx, y1: top + 200, y2: top + 204, stroke: '#444'}, 'x-tick', false);
      txt(g, xx, top + 216, '\u2212' + (-v), 10, 'x-tick-label', {'text-anchor': 'middle', fill: '#222'});
    });
    txt(g, 1306, top + 230, 'Brightness Temperature [K]', 9, 'mw-colorbar-title', {'text-anchor': 'middle'});
    add(g, 'rect', {x: 1205, y: top + 234, width: 203, height: 12, fill: i === 0 ? 'url(#cbJet)' : 'url(#cbJetR)', stroke: '#333', 'stroke-width': 0.8}, 'mw-colorbar', false);
    [160,180,200,220,240,260,280].forEach((v, k) => txt(g, 1205 + k * 33.8, top + 256, String(v), 6.5, 'mw-colorbar-tick', {'text-anchor': 'middle', fill: '#222'}));
    scenePanel(g, 1445, top, 202, 200, shapScene(1.1), 'mw-shap-map-' + i);
    txt(g, 1546, top - 5, 'SHAP Value=' + mwShapVals[i] + ' kts', 11.5, 'mw-shap-title', {'text-anchor': 'middle'});
    for (let k = 0; k < 6; k++) {
      add(g, 'line', {x1: 1452 + k * 31, x2: 1452 + k * 31, y1: top + 200, y2: top + 204, stroke: '#444'}, 'x-tick', false);
      add(g, 'line', {x1: 1441, x2: 1445, y1: top + 18 + k * 31, y2: top + 18 + k * 31, stroke: '#444'}, 'y-tick', false);
    }
  }
  txt(g, 1546, 1433, 'SHAP Values', 10, 'mw-shap-colorbar-title', {'text-anchor': 'middle'});
  add(g, 'rect', {x: 1445, y: 1437, width: 202, height: 12, fill: 'url(#cbSV)', stroke: '#333', 'stroke-width': 0.8}, 'mw-shap-colorbar', false);
  [['\u22120.1',1481],['0.0',1546],['0.1',1611]].forEach(t => txt(g, t[1], 1464, t[0], 10, 'mw-shap-colorbar-tick', {'text-anchor': 'middle', fill: '#222'}));
})();
</script>
</body></html>
